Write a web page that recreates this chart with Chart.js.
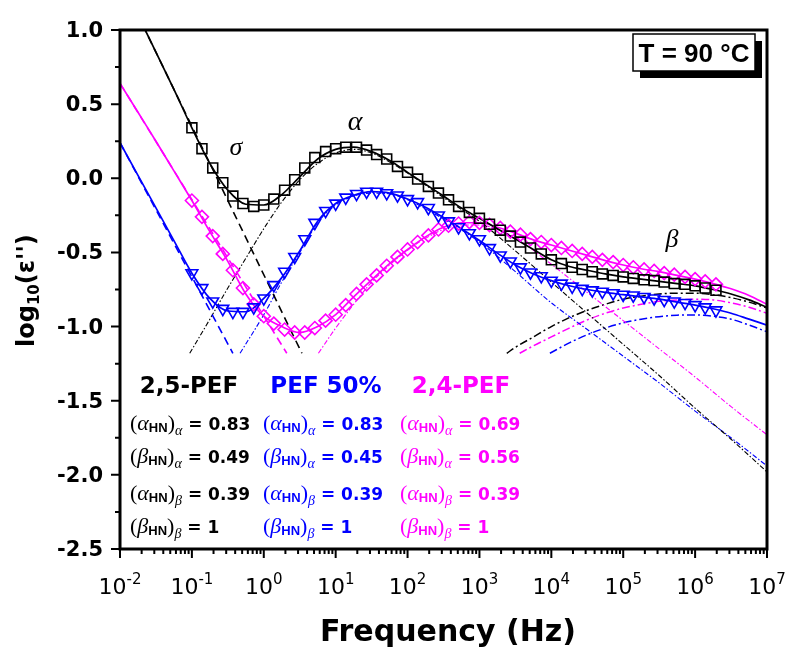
<!DOCTYPE html>
<html>
<head>
<meta charset="utf-8">
<script src="https://cdn.jsdelivr.net/npm/chart.js@4.4.1/dist/chart.umd.min.js"></script>
<style>
  html, body { margin: 0; padding: 0; background: #fff; }
  #wrap { width: 791px; height: 648px; position: relative; }
</style>
</head>
<body>
<div id="wrap"><canvas id="chart"></canvas></div>
<script>
// log10(frequency / Hz) of the measured points
const markerLogF = [-1.00, -0.86, -0.71, -0.57, -0.43, -0.29, -0.14, 0.00, 0.14, 0.29, 0.43, 0.57, 0.71, 0.86,
  1.00, 1.14, 1.29, 1.43, 1.57, 1.71, 1.86, 2.00, 2.14, 2.29, 2.43, 2.57, 2.71, 2.86,
  3.00, 3.14, 3.29, 3.43, 3.57, 3.71, 3.86, 4.00, 4.14, 4.29, 4.43, 4.57, 4.71, 4.86,
  5.00, 5.14, 5.29, 5.43, 5.57, 5.71, 5.86, 6.00, 6.14, 6.29];

// log10(eps'') measured
const pef25Points = [0.34, 0.20, 0.07, -0.03, -0.12, -0.17, -0.19, -0.18, -0.14, -0.08, -0.01, 0.07, 0.14, 0.18,
  0.20, 0.21, 0.21, 0.19, 0.16, 0.13, 0.08, 0.04, -0.005, -0.055, -0.10, -0.145, -0.19, -0.23,
  -0.27, -0.31, -0.35, -0.39, -0.43, -0.47, -0.51, -0.55, -0.575, -0.60, -0.615, -0.63, -0.645, -0.655,
  -0.665, -0.675, -0.685, -0.69, -0.70, -0.71, -0.715, -0.725, -0.74, -0.755];
const pef50Points = [-0.64, -0.74, -0.83, -0.88, -0.90, -0.90, -0.87, -0.81, -0.72, -0.63, -0.53, -0.41, -0.30, -0.22,
  -0.17, -0.13, -0.105, -0.09, -0.09, -0.10, -0.115, -0.14, -0.16, -0.20, -0.25, -0.29, -0.33, -0.37,
  -0.41, -0.47, -0.52, -0.56, -0.60, -0.635, -0.66, -0.69, -0.71, -0.73, -0.745, -0.755, -0.765, -0.775,
  -0.785, -0.79, -0.80, -0.81, -0.82, -0.83, -0.84, -0.855, -0.87, -0.89];
const pef24Points = [-0.15, -0.26, -0.39, -0.51, -0.62, -0.74, -0.85, -0.93, -0.98, -1.02, -1.04, -1.04, -1.01, -0.96,
  -0.92, -0.855, -0.78, -0.715, -0.655, -0.59, -0.53, -0.48, -0.43, -0.385, -0.345, -0.32, -0.305, -0.295,
  -0.30, -0.315, -0.335, -0.36, -0.38, -0.41, -0.43, -0.45, -0.47, -0.49, -0.51, -0.53, -0.55, -0.565,
  -0.585, -0.60, -0.615, -0.625, -0.64, -0.65, -0.665, -0.68, -0.695, -0.715];

// HN fits (total)
const fitLogF = [-2, -1.75, -1.5, -1.25, -1, -0.75, -0.5, -0.25, 0, 0.25, 0.5, 0.75, 1, 1.25, 1.5, 1.75,
  2, 2.25, 2.5, 2.75, 3, 3.25, 3.5, 3.75, 4, 4.25, 4.5, 4.75, 5, 5.25, 5.5, 5.75, 6, 6.25, 6.5, 6.75, 7];
const pef25Fit = [1.35, 1.10, 0.85, 0.60, 0.34, 0.10, -0.08, -0.175, -0.18, -0.11, 0.01, 0.13, 0.195, 0.21, 0.18, 0.12,
  0.04, -0.04, -0.12, -0.20, -0.27, -0.34, -0.41, -0.48, -0.55, -0.595, -0.62, -0.645, -0.665, -0.68, -0.695, -0.71,
  -0.725, -0.75, -0.78, -0.82, -0.87];
const pef50Fit = [0.24, 0.02, -0.20, -0.42, -0.64, -0.81, -0.895, -0.90, -0.81, -0.67, -0.49, -0.29, -0.17, -0.115, -0.09, -0.10,
  -0.14, -0.195, -0.265, -0.34, -0.42, -0.505, -0.585, -0.645, -0.69, -0.725, -0.75, -0.77, -0.785, -0.80, -0.815, -0.835,
  -0.855, -0.88, -0.91, -0.95, -0.99];
const pef24Fit = [0.64, 0.445, 0.25, 0.05, -0.15, -0.36, -0.56, -0.78, -0.93, -1.00, -1.04, -1.00, -0.92, -0.80, -0.685, -0.575,
  -0.48, -0.395, -0.33, -0.30, -0.30, -0.33, -0.37, -0.415, -0.45, -0.485, -0.52, -0.555, -0.585, -0.61, -0.63, -0.655,
  -0.68, -0.71, -0.745, -0.79, -0.85];

// conductivity contributions
const sigma25LogF = [-2.0, 0.53];
const sigma25 = [1.35, -1.18];
const sigma50LogF = [-2.0, -0.43];
const sigma50 = [0.24, -1.18];
const sigma24LogF = [-2.0, 0.32];
const sigma24 = [0.64, -1.18];

// alpha relaxation contributions
const alpha25LogF = [-1.03, -0.75, -0.5, -0.25, 0, 0.25, 0.5, 0.75, 1, 1.25, 1.5, 1.75, 2, 2.25, 2.5, 2.75, 3, 3.5, 4, 4.5, 5, 5.5, 6, 6.5, 7];
const alpha25 = [-1.18, -0.95, -0.74, -0.54, -0.34, -0.16, -0.01, 0.10, 0.17, 0.195, 0.17, 0.11, 0.035, -0.045, -0.13, -0.21, -0.29, -0.49, -0.70, -0.91, -1.12, -1.33, -1.55, -1.76, -1.98];
const alpha50LogF = [-0.33, 0, 0.25, 0.5, 0.75, 1, 1.25, 1.5, 1.75, 2, 2.5, 3, 3.5, 4, 4.5, 5, 5.5, 6, 6.5, 7];
const alpha50 = [-1.18, -0.92, -0.70, -0.50, -0.30, -0.18, -0.12, -0.10, -0.105, -0.145, -0.275, -0.43, -0.63, -0.84, -1.02, -1.20, -1.38, -1.57, -1.75, -1.94];
const alpha24LogF = [0.76, 1, 1.25, 1.5, 1.75, 2, 2.25, 2.5, 2.75, 3, 3.25, 3.5, 4, 4.5, 5, 5.5, 6, 6.5, 7];
const alpha24 = [-1.18, -1.01, -0.85, -0.70, -0.585, -0.485, -0.405, -0.345, -0.315, -0.315, -0.345, -0.40, -0.58, -0.77, -0.96, -1.15, -1.34, -1.54, -1.73];

// beta relaxation contributions
const beta25LogF = [3.38, 3.5, 3.75, 4, 4.25, 4.5, 4.75, 5, 5.25, 5.5, 5.75, 6, 6.25, 6.5, 6.75, 7];
const beta25 = [-1.18, -1.14, -1.07, -1.00, -0.94, -0.89, -0.85, -0.815, -0.795, -0.78, -0.775, -0.775, -0.785, -0.805, -0.835, -0.875];
const beta50LogF = [3.98, 4.25, 4.5, 4.75, 5, 5.25, 5.5, 5.75, 6, 6.25, 6.5, 6.75, 7];
const beta50 = [-1.18, -1.11, -1.055, -1.01, -0.975, -0.95, -0.933, -0.923, -0.922, -0.93, -0.95, -0.99, -1.035];
const beta24LogF = [3.56, 3.75, 4, 4.25, 4.5, 4.75, 5, 5.25, 5.5, 5.75, 6, 6.25, 6.5, 6.75, 7];
const beta24 = [-1.18, -1.13, -1.07, -1.01, -0.955, -0.91, -0.875, -0.85, -0.83, -0.82, -0.815, -0.82, -0.84, -0.87, -0.91];

// axis ticks
const xDecades = [-2, -1, 0, 1, 2, 3, 4, 5, 6, 7];
const yTickValues = [1.0, 0.5, 0.0, -0.5, -1.0, -1.5, -2.0, -2.5];
const yTickLabels = ['1.0', '0.5', '0.0', '-0.5', '-1.0', '-1.5', '-2.0', '-2.5'];

// fit parameters
const sampleNames = ['2,5-PEF', 'PEF 50%', '2,4-PEF'];
const alphaHNa = ['0.83', '0.83', '0.69'];
const betaHNa = ['0.49', '0.45', '0.56'];
const alphaHNb = ['0.39', '0.39', '0.39'];
const betaHNb = ['1', '1', '1'];

const BLACK = '#000000', BLUE = '#0000ff', MAGENTA = '#ff00ff';

function xy(xs, ys) {
  return xs.map((x, i) => ({ x: x, y: ys[i] }));
}

function markers(ys, color, style, rot, radius) {
  return {
    data: xy(markerLogF, ys), showLine: false,
    pointStyle: style, pointRotation: rot, pointRadius: radius,
    pointBorderColor: color, pointBackgroundColor: 'rgba(0,0,0,0)', pointBorderWidth: 1.6,
    order: 0
  };
}

function curve(xs, ys, color, width, dash, order) {
  return {
    data: xy(xs, ys), borderColor: color, borderWidth: width, borderDash: dash,
    pointRadius: 0, fill: false, cubicInterpolationMode: 'monotone', order: order
  };
}

const DASH = [8, 5];
const DASH_DOT_A = [5, 2, 1.5, 2];
const DASH_DOT_B = [8, 3, 2, 3];

const datasets = [
  markers(pef25Points, BLACK, 'rect', 0, 7),
  markers(pef50Points, BLUE, 'triangle', 180, 6.8),
  markers(pef24Points, MAGENTA, 'rectRot', 0, 6.5),
  curve(fitLogF, pef25Fit, BLACK, 1.7, [], 1),
  curve(fitLogF, pef50Fit, BLUE, 1.7, [], 1),
  curve(fitLogF, pef24Fit, MAGENTA, 1.7, [], 1),
  curve(sigma25LogF, sigma25, BLACK, 1.6, DASH, 2),
  curve(sigma50LogF, sigma50, BLUE, 1.6, DASH, 2),
  curve(sigma24LogF, sigma24, MAGENTA, 1.6, DASH, 2),
  curve(alpha25LogF, alpha25, BLACK, 1.1, DASH_DOT_A, 2),
  curve(alpha50LogF, alpha50, BLUE, 1.1, DASH_DOT_A, 2),
  curve(alpha24LogF, alpha24, MAGENTA, 1.1, DASH_DOT_A, 2),
  curve(beta25LogF, beta25, BLACK, 1.5, DASH_DOT_B, 2),
  curve(beta50LogF, beta50, BLUE, 1.5, DASH_DOT_B, 2),
  curve(beta24LogF, beta24, MAGENTA, 1.5, DASH_DOT_B, 2)
];

// parameter line: (sym_HN)_sub = value
function drawParam(ctx, x, y, sym, sub, value, color) {
  let cx = x;
  ctx.fillStyle = color;
  ctx.textAlign = 'left';
  ctx.textBaseline = 'alphabetic';
  ctx.font = '22px "Liberation Serif"';
  ctx.fillText('(', cx, y); cx += ctx.measureText('(').width;
  ctx.font = 'italic 22px "Liberation Serif"';
  ctx.fillText(sym, cx, y); cx += ctx.measureText(sym).width;
  ctx.font = 'bold 13px "Liberation Sans"';
  ctx.fillText('HN', cx, y + 2); cx += ctx.measureText('HN').width;
  ctx.font = '22px "Liberation Serif"';
  ctx.fillText(')', cx, y); cx += ctx.measureText(')').width;
  ctx.font = 'italic 14px "Liberation Serif"';
  ctx.fillText(sub, cx, y + 5); cx += ctx.measureText(sub).width + 6;
  ctx.font = 'bold 17px "DejaVu Sans"';
  ctx.fillText('= ' + value, cx, y);
}

const decorations = {
  id: 'decorations',
  afterDatasetsDraw(chart) {
    const ctx = chart.ctx;
    const a = chart.chartArea;
    const xs = chart.scales.x, ys = chart.scales.y;
    ctx.save();

    // frame
    ctx.strokeStyle = '#000';
    ctx.lineWidth = 3;
    ctx.strokeRect(a.left, a.top, a.right - a.left, a.bottom - a.top);

    // x ticks (log decades)
    ctx.lineWidth = 2;
    ctx.beginPath();
    xDecades.forEach(n => {
      const px = xs.getPixelForValue(n);
      ctx.moveTo(px, a.bottom); ctx.lineTo(px, a.bottom + 9);
      if (n < 7) {
        for (let k = 2; k <= 9; k++) {
          const mx = xs.getPixelForValue(n + Math.log10(k));
          ctx.moveTo(mx, a.bottom); ctx.lineTo(mx, a.bottom + 5);
        }
      }
    });
    // y ticks
    yTickValues.forEach(v => {
      const py = ys.getPixelForValue(v);
      ctx.moveTo(a.left, py); ctx.lineTo(a.left - 9, py);
      if (v > -2.5) {
        const my = ys.getPixelForValue(v - 0.25);
        ctx.moveTo(a.left, my); ctx.lineTo(a.left - 5, my);
      }
    });
    ctx.stroke();

    // y tick labels
    ctx.fillStyle = '#000';
    ctx.font = 'bold 21px "DejaVu Sans"';
    ctx.textAlign = 'right';
    ctx.textBaseline = 'alphabetic';
    yTickValues.forEach((v, i) => {
      ctx.fillText(yTickLabels[i], a.left - 17, ys.getPixelForValue(v) + 7);
    });

    // x tick labels 10^n
    ctx.textAlign = 'left';
    xDecades.forEach(n => {
      const px = xs.getPixelForValue(n);
      const exp = String(n);
      ctx.font = '22px "DejaVu Sans"';
      const w10 = ctx.measureText('10').width;
      ctx.font = '15px "DejaVu Sans"';
      const wE = ctx.measureText(exp).width;
      const x0 = px - (w10 + wE) / 2;
      ctx.font = '22px "DejaVu Sans"';
      ctx.fillText('10', x0, 594);
      ctx.font = '15px "DejaVu Sans"';
      ctx.fillText(exp, x0 + w10, 584);
    });

    // axis titles
    ctx.font = 'bold 30px "DejaVu Sans"';
    ctx.textAlign = 'center';
    ctx.fillText('Frequency (Hz)', 448, 641);

    ctx.save();
    ctx.translate(34, 347);
    ctx.rotate(-Math.PI / 2);
    ctx.textAlign = 'left';
    let tx = 0;
    ctx.font = 'bold 24px "DejaVu Sans"';
    ctx.fillText('log', tx, 0); tx += ctx.measureText('log').width;
    ctx.font = 'bold 15px "DejaVu Sans"';
    ctx.fillText('10', tx, 5); tx += ctx.measureText('10').width;
    ctx.font = 'bold 24px "DejaVu Sans"';
    ctx.fillText("(ε'')", tx, 0);
    ctx.restore();

    // process labels
    ctx.textAlign = 'center';
    ctx.font = 'italic 26px "Liberation Serif"';
    ctx.fillText('σ', 236, 155);
    ctx.font = 'italic 28px "Liberation Serif"';
    ctx.fillText('α', 355, 130);
    ctx.font = 'italic 26px "Liberation Serif"';
    ctx.fillText('β', 672, 247);

    // temperature box
    ctx.fillStyle = '#000';
    ctx.fillRect(640, 41, 122, 37);
    ctx.fillStyle = '#fff';
    ctx.fillRect(633, 34, 122, 37);
    ctx.lineWidth = 1.5;
    ctx.strokeStyle = '#000';
    ctx.strokeRect(633, 34, 122, 37);
    ctx.fillStyle = '#000';
    ctx.font = 'bold 26px "Liberation Sans"';
    ctx.fillText('T = 90 °C', 694, 62);

    // parameter table
    const colX = [130, 263, 400];
    const nameX = [189, 326, 461];
    const colors = [BLACK, BLUE, MAGENTA];
    for (let i = 0; i < 3; i++) {
      ctx.fillStyle = colors[i];
      ctx.font = 'bold 23px "DejaVu Sans"';
      ctx.textAlign = 'center';
      ctx.fillText(sampleNames[i], nameX[i], 393);
      drawParam(ctx, colX[i], 430, 'α', 'α', alphaHNa[i], colors[i]);
      drawParam(ctx, colX[i], 463, 'β', 'α', betaHNa[i], colors[i]);
      drawParam(ctx, colX[i], 500, 'α', 'β', alphaHNb[i], colors[i]);
      drawParam(ctx, colX[i], 533, 'β', 'β', betaHNb[i], colors[i]);
    }
    ctx.restore();
  }
};

new Chart(document.getElementById('chart'), {
  type: 'line',
  data: { datasets: datasets },
  options: {
    responsive: true,
    maintainAspectRatio: false,
    animation: false,
    layout: { padding: { top: 30, right: 24, left: 0, bottom: 0 } },
    plugins: { legend: { display: false }, tooltip: { enabled: false } },
    scales: {
      x: {
        type: 'linear', min: -2, max: 7,
        grid: { display: false }, border: { display: false }, ticks: { display: false },
        afterFit(s) { s.height = 99; }
      },
      y: {
        type: 'linear', min: -2.5, max: 1.0,
        grid: { display: false }, border: { display: false }, ticks: { display: false },
        afterFit(s) { s.width = 120; }
      }
    }
  },
  plugins: [decorations]
});
</script>
</body>
</html>
